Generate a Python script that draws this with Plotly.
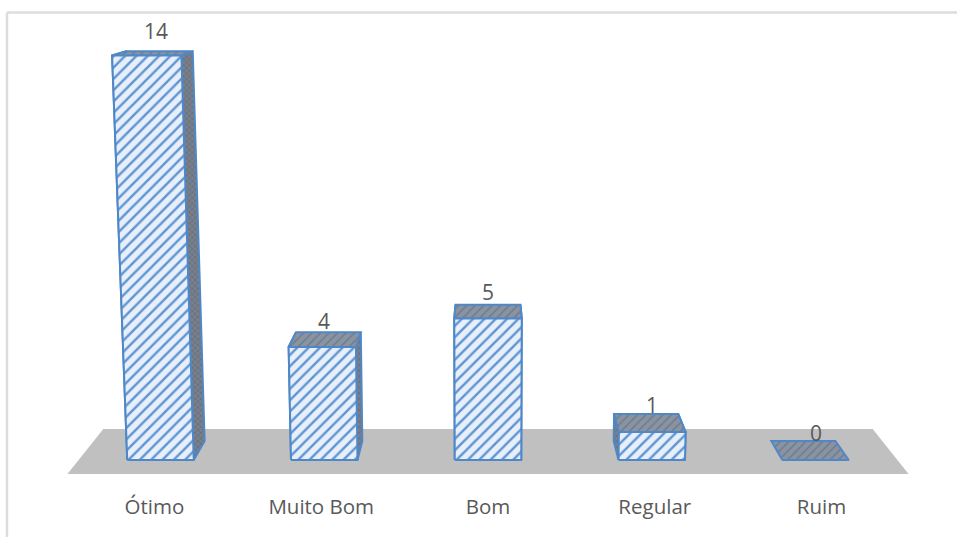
import plotly.graph_objects as go

categories = ["Ótimo", "Muito Bom", "Bom", "Regular", "Ruim"]
values = [14, 4, 5, 1, 0]

# Perspective of the 3D column view, expressed in category and value units
CENTER = 2.0
SPREAD_PER_VALUE = 0.003
RECEDE_PER_DEPTH = 0.037
VALUE_STRETCH = 0.0023
DEPTH_RISE = 19 / 28
DEPTH_RISE_FALL = 1.07 / 28
HALF_WIDTH = 0.203
UNIT_PX = 28.0
PX_PER_CATEGORY = 163.75

EDGE = "#5087c7"
FRONT_BG = "#e6effa"
FRONT_FG = "#5f94d2"
TOP_BG = "#8d939c"
TOP_FG = "#647d9e"
SIDE = "#79808c"
SIDE_FG = "#5f6a7a"


def project(x, h, d):
    """Map a point at category x, height h and depth d onto the axes."""
    px = CENTER + (x - CENTER) * (1 + SPREAD_PER_VALUE * h) * (1 - RECEDE_PER_DEPTH * d)
    py = h * (1 + VALUE_STRETCH * h) + d * (DEPTH_RISE - DEPTH_RISE_FALL * h)
    return px, py


def face(corners, fill, line=EDGE, pattern=None, width=2):
    pts = [project(*c) for c in corners]
    pts.append(pts[0])
    return go.Scatter(
        x=[p[0] for p in pts],
        y=[p[1] for p in pts],
        mode="lines",
        fill="toself",
        fillcolor=fill,
        fillpattern=pattern,
        line=dict(color=line, width=width),
        hoverinfo="skip",
        showlegend=False,
    )


fig = go.Figure()

# Floor of the 3D view
fig.add_trace(face([(-0.5, 0, -0.74), (4.5, 0, -0.74), (4.5, 0, 1.63), (-0.5, 0, 1.63)],
                   "#c0c0c0", line="#c0c0c0", width=0))

front_pattern = dict(shape="/", size=8, solidity=0.3, fgcolor=FRONT_FG, bgcolor=FRONT_BG, fillmode="replace")
top_pattern = dict(shape="/", size=6, solidity=0.25, fgcolor=TOP_FG, bgcolor=TOP_BG, fillmode="replace")
side_pattern = dict(shape="x", size=4, solidity=0.3, fgcolor=SIDE_FG, bgcolor=SIDE, fillmode="replace")

for i, v in enumerate(values):
    a, b = i - HALF_WIDTH, i + HALF_WIDTH
    if v > 0:
        fig.add_trace(face([(a, 0, 0), (a, v, 0), (a, v, 1), (a, 0, 1)], SIDE, pattern=side_pattern))
        fig.add_trace(face([(b, 0, 0), (b, v, 0), (b, v, 1), (b, 0, 1)], SIDE, pattern=side_pattern))
    fig.add_trace(face([(a, v, 0), (b, v, 0), (b, v, 1), (a, v, 1)], TOP_BG, pattern=top_pattern))
    if v > 0:
        fig.add_trace(face([(a, 0, 0), (b, 0, 0), (b, v, 0), (a, v, 0)], FRONT_BG, pattern=front_pattern))

# Value labels float over the back edge of each column's top
for i, v in enumerate(values):
    fig.add_annotation(
        x=project(i, v / 3, 0)[0],
        y=project(i, v, 1)[1] + (8 + 0.85 * v) / UNIT_PX,
        text=str(v), showarrow=False,
        xanchor="center", yanchor="middle",
        font=dict(family="Open Sans", size=21, color="#595959"),
    )

HEIGHT = 537
WIDTH = 957
BOTTOM = 45
BASE_PX = 460
CENTER_PX = 488

fig.update_layout(
    width=WIDTH,
    height=HEIGHT,
    margin=dict(l=0, r=0, t=0, b=BOTTOM, pad=0),
    paper_bgcolor="white",
    plot_bgcolor="white",
    showlegend=False,
    xaxis=dict(
        range=[CENTER - CENTER_PX / PX_PER_CATEGORY, CENTER + (WIDTH - CENTER_PX) / PX_PER_CATEGORY],
        tickmode="array",
        tickvals=[project(i, 0, -0.5)[0] for i in range(len(categories))],
        ticktext=categories,
        ticks="",
        ticklen=0,
        showgrid=False,
        zeroline=False,
        showline=False,
        tickfont=dict(family="Open Sans", size=20.5, color="#595959"),
    ),
    yaxis=dict(
        range=[(BASE_PX - (HEIGHT - BOTTOM)) / UNIT_PX, BASE_PX / UNIT_PX],
        visible=False,
    ),
    shapes=[
        dict(type="line", xref="paper", yref="paper", x0=7 / WIDTH, x1=1, y0=(HEIGHT - BOTTOM - 12.5) / (HEIGHT - BOTTOM),
             y1=(HEIGHT - BOTTOM - 12.5) / (HEIGHT - BOTTOM), line=dict(color="#dddddd", width=2.5)),
        dict(type="line", xref="paper", yref="paper", x0=7 / WIDTH, x1=7 / WIDTH, y0=-BOTTOM / (HEIGHT - BOTTOM),
             y1=(HEIGHT - BOTTOM - 12.5) / (HEIGHT - BOTTOM), line=dict(color="#dddddd", width=2.5)),
    ],
)

fig.write_html("out.html", config=dict(displayModeBar=False))
